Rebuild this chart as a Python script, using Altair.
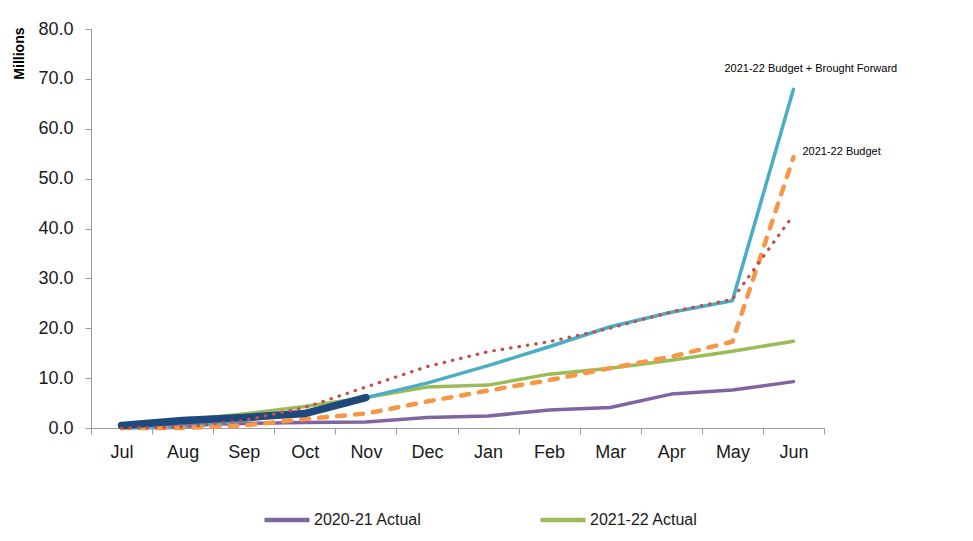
import altair as alt
import pandas as pd

months = ["Jul", "Aug", "Sep", "Oct", "Nov", "Dec", "Jan", "Feb", "Mar", "Apr", "May", "Jun"]

actual_2020_21 = [0.3, 0.6, 0.9, 1.1, 1.2, 2.1, 2.4, 3.6, 4.1, 6.8, 7.6, 9.3]
actual_2021_22 = [0.5, 1.5, 2.8, 4.3, 6.1, 8.2, 8.6, 10.8, 12.0, 13.6, 15.4, 17.4]
budget_bf = [0.0, 0.1, 1.5, 3.0, 6.1, 9.0, 12.5, 16.3, 20.3, 23.2, 25.5, 67.9]
budget = [0.0, 0.0, 0.5, 1.8, 2.9, 5.3, 7.5, 9.6, 12.0, 14.3, 17.3, 54.3]
forecast = [0.0, 0.2, 1.5, 4.1, 8.2, 12.3, 15.3, 17.3, 20.0, 23.3, 25.8, 42.7]
ytd_months = ["Jul", "Aug", "Sep", "Oct", "Nov"]
ytd_2021_22 = [0.5, 1.5, 2.1, 2.9, 6.1]

S_2021 = "2020-21 Actual"
S_2122 = "2021-22 Actual"
S_BBF = "2021-22 Budget + Brought Forward"
S_BUD = "2021-22 Budget"
S_FC = "2021-22 Forecast"
S_YTD = "2021-22 YTD Actual"

def long(name, ms, vals):
    return pd.DataFrame({"series": name, "month": ms, "value": vals})

solid_df = pd.concat([
    long(S_2021, months, actual_2020_21),
    long(S_2122, months, actual_2021_22),
    long(S_BBF, months, budget_bf),
])
budget_df = long(S_BUD, months, budget)
fc_df = long(S_FC, months, forecast)
ytd_df = long(S_YTD, ytd_months, ytd_2021_22)
ann_bbf_df = pd.DataFrame({"series": [S_BBF], "month": ["Jun"], "value": [budget_bf[-1]]})
ann_bud_df = pd.DataFrame({"series": [S_BUD], "month": ["Jun"], "value": [budget[-1]]})

FONT = "Liberation Sans"
AX = "#9a9a9a"
LBL = "#1a1a1a"

x_enc = alt.X(
    "month:N",
    sort=months,
    bandPosition=0.5,
    scale=alt.Scale(type="band", domain=months, paddingInner=0, paddingOuter=0),
    axis=alt.Axis(
        title=None, labelAngle=0, tickBand="extent", labelFontSize=18, labelFont=FONT,
        labelColor=LBL, labelPadding=9, tickSize=6, tickColor=AX, domainColor=AX,
        grid=False,
    ),
)
y_enc = alt.Y(
    "value:Q",
    scale=alt.Scale(domain=[0, 80], nice=False),
    axis=alt.Axis(
        values=[0, 10, 20, 30, 40, 50, 60, 70, 80], format=".1f",
        title="Millions", titleFont=FONT, titleFontSize=14, titleFontWeight="bold",
        titleColor="#000000", titleAngle=-90, titleAlign="right",
        titleBaseline="alphabetic", titleX=-68, titleY=-2,
        labelFontSize=18, labelFont=FONT, labelColor=LBL, labelPadding=12,
        tickSize=6, tickColor=AX, domainColor=AX, grid=False,
    ),
)

solid = alt.Chart(solid_df).mark_line(strokeWidth=3.5, strokeCap="round", strokeJoin="round").encode(
    x=x_enc,
    y=y_enc,
    color=alt.Color(
        "series:N",
        scale=alt.Scale(domain=[S_2021, S_2122, S_BBF], range=["#8064A2", "#9BBB59", "#4BACC6"]),
        legend=alt.Legend(
            values=[S_2021, S_2122], title=None, orient="none", legendX=171, legendY=466,
            direction="horizontal", columns=2, symbolType="stroke", symbolSize=2025,
            symbolStrokeWidth=4.5, labelFontSize=16, labelFont=FONT, labelColor=LBL,
            labelOffset=2, columnPadding=109, padding=0,
        ),
    ),
    detail="series:N",
)

bud = alt.Chart(budget_df).mark_line(
    strokeWidth=4.5, strokeCap="round", strokeDash=[8, 10], color="#F79646"
).encode(x=x_enc, y=y_enc)

fc = alt.Chart(fc_df).mark_line(
    strokeWidth=3.2, strokeCap="round", strokeDash=[0.5, 8], color="#C0504D"
).encode(x=x_enc, y=y_enc)

ytd = alt.Chart(ytd_df).mark_line(
    strokeWidth=7.5, strokeCap="round", strokeJoin="round", color="#1F497D"
).encode(x=x_enc, y=y_enc)

ann_bbf = alt.Chart(ann_bbf_df).mark_text(
    font=FONT, fontSize=11, color="#000000", align="left", baseline="middle", dx=-69, dy=-20
).encode(x=x_enc, y=y_enc, text="series:N")

ann_bud = alt.Chart(ann_bud_df).mark_text(
    font=FONT, fontSize=11, color="#000000", align="left", baseline="middle", dx=9, dy=-5
).encode(x=x_enc, y=y_enc, text="series:N")

chart = alt.layer(solid, bud, ytd, fc, ann_bbf, ann_bud).properties(
    width=733,
    height=399,
    autosize=alt.AutoSizeParams(type="none"),
    padding={"left": 83, "top": 21, "right": 130, "bottom": 105},
).configure_view(stroke=None)

chart.save("out.html", embed_options={"renderer": "svg", "actions": False})
